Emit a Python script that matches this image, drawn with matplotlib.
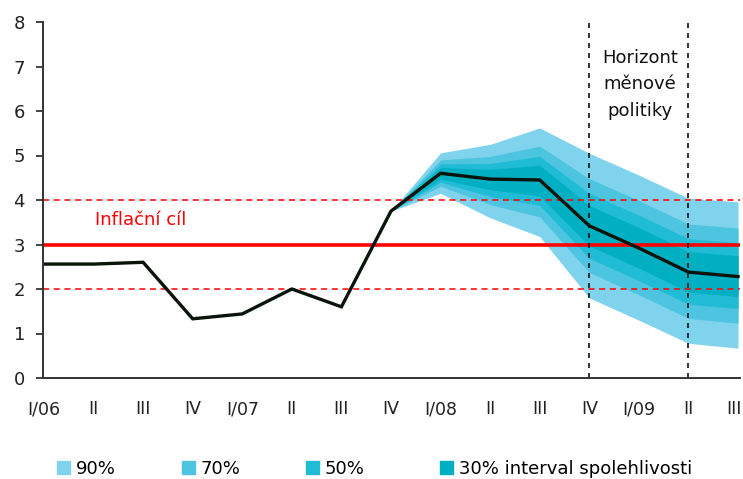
import numpy as np
import matplotlib.pyplot as plt
import matplotlib.transforms as mtransforms
from matplotlib.patches import Patch

plt.rcParams['font.family'] = ['DejaVu Sans']

# čtvrtletí I/06 .. III/09
labels = ['I/06', 'II', 'III', 'IV', 'I/07', 'II', 'III', 'IV',
          'I/08', 'II', 'III', 'IV', 'I/09', 'II', 'III']
inflation = [2.56, 2.56, 2.60, 1.33, 1.44, 2.00, 1.60, 3.75,
             4.60, 4.47, 4.45, 3.42, 2.92, 2.38, 2.28]

# pásy nejistoty od IV/07
fan_start = 7
up90 = [3.75, 5.06, 5.25, 5.62, 5.05, 4.56, 4.04, 3.96]
lo90 = [3.75, 4.15, 3.60, 3.18, 1.80, 1.30, 0.78, 0.67]
up70 = [3.75, 4.90, 4.98, 5.21, 4.48, 3.99, 3.46, 3.37]
lo70 = [3.75, 4.31, 3.90, 3.62, 2.37, 1.87, 1.34, 1.23]
up50 = [3.75, 4.81, 4.82, 4.98, 4.15, 3.66, 3.13, 3.04]
lo50 = [3.75, 4.40, 4.08, 3.88, 2.69, 2.19, 1.66, 1.56]
up30 = [3.75, 4.73, 4.69, 4.78, 3.88, 3.38, 2.84, 2.75]
lo30 = [3.75, 4.47, 4.23, 4.09, 2.97, 2.47, 1.93, 1.83]

target = 3.0
band_lo, band_hi = 2.0, 4.0
horizon = [11, 13]

c90, c70, c50, c30 = '#80d3ec', '#4dc4e0', '#20bbd5', '#00b0c2'
legend_names = ['90%', '70%', '50%', '30% interval spolehlivosti']
legend_x = [57, 182, 306, 440]

fig = plt.figure(figsize=(7.43, 4.79), dpi=100)
ax = fig.add_axes([43 / 743, 1 - 378 / 479, 697 / 743, 356 / 479])

x = np.arange(len(labels))
xf = x[fan_start:]
ax.fill_between(xf, lo90, up90, color=c90, lw=0)
ax.fill_between(xf, lo70, up70, color=c70, lw=0)
ax.fill_between(xf, lo50, up50, color=c50, lw=0)
ax.fill_between(xf, lo30, up30, color=c30, lw=0)

ax.axhline(band_hi, color='#ff0000', lw=1.1, ls=(0, (4, 3)))
ax.axhline(band_lo, color='#ff0000', lw=1.1, ls=(0, (4, 3)))
ax.axhline(target, color='#ff0000', lw=2.6)

for h in horizon:
    ax.axvline(h, color='#111111', lw=1.2, ls=(0, (3, 3)))

ax.plot(x, inflation, color='#0a140a', lw=2.4, solid_joinstyle='miter')

ax.text(1.03, 3.55, 'Inflační cíl', color='#ff0000', fontsize=13, va='center')
ax.text(12.02, 6.6, 'Horizont\nměnové\npolitiky', ha='center', va='center',
        fontsize=13, linespacing=1.6, color='#111111')

ax.set_xlim(-0.02, 14.04)
ax.set_ylim(0, 8)
ax.set_xticks(x)
ax.set_xticklabels(labels)
ax.set_yticks(range(0, 9))
ax.tick_params(axis='x', length=0, pad=16, labelsize=12.5, colors='#222222')
ax.tick_params(axis='y', length=5, width=1.2, pad=8, labelsize=13, colors='#222222')
for s in ['top', 'right']:
    ax.spines[s].set_visible(False)
for s in ['left', 'bottom']:
    ax.spines[s].set_color('#333333')
    ax.spines[s].set_linewidth(1.4)

# poslední popisek posunout kousek doleva, ať se vejde
last = ax.get_xticklabels()[-1]
last.set_transform(last.get_transform() +
                   mtransforms.ScaledTranslation(-4 / 100, 0, fig.dpi_scale_trans))

for name, col, lx in zip(legend_names, [c90, c70, c50, c30], legend_x):
    fig.legend([Patch(color=col)], [name], loc='center left',
               bbox_to_anchor=(lx / 743, 1 - 469 / 479), frameon=False,
               fontsize=13, handlelength=0.7, handleheight=0.7,
               handletextpad=0.35, borderpad=0, borderaxespad=0)

fig.savefig('out.png', dpi=100)
